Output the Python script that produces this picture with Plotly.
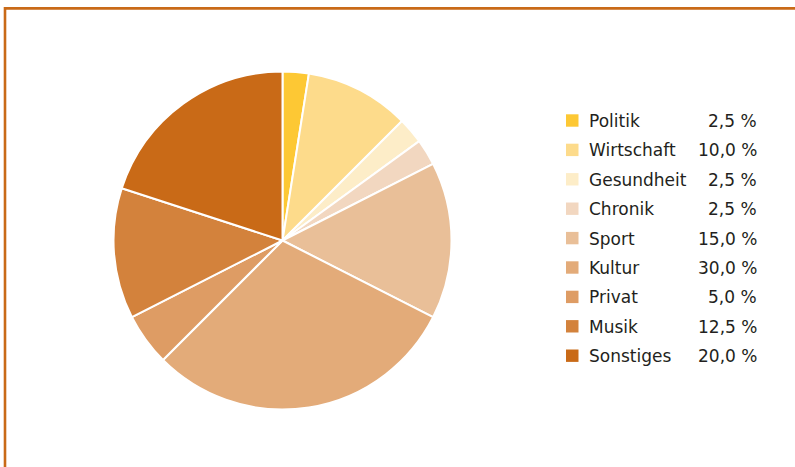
import plotly.graph_objects as go

# Data
categories = ["Politik", "Wirtschaft", "Gesundheit", "Chronik", "Sport",
              "Kultur", "Privat", "Musik", "Sonstiges"]
shares = [2.5, 10.0, 2.5, 2.5, 15.0, 30.0, 5.0, 12.5, 20.0]
colors = ["#FDC834", "#FDDB8B", "#FDEDC8", "#F2D7C0", "#E9BF98",
          "#E3AB79", "#DE9C64", "#D3823C", "#C96A17"]

W, H = 795, 467
FONT = "DejaVu Sans"
TEXT_COLOR = "#231f20"
FRAME_COLOR = "#C96A17"

# Pie geometry in pixels
cx, cy, r = 282.5, 240.5, 169

def px(x):
    return x / W

def py(y):
    return 1 - y / H

fig = go.Figure()
fig.add_trace(go.Pie(
    labels=categories,
    values=shares,
    marker=dict(colors=colors, line=dict(color="white", width=2)),
    sort=False,
    direction="clockwise",
    rotation=0,
    textinfo="none",
    hoverinfo="label+percent",
    showlegend=False,
    domain=dict(x=[px(cx - r), px(cx + r)], y=[py(cy + r), py(cy - r)]),
))

# Custom legend: colour square, label, right-aligned value
shapes = []
annotations = []
row0, step = 120.5, 29.4
for i, (name, val, col) in enumerate(zip(categories, shares, colors)):
    y = row0 + i * step
    shapes.append(dict(type="rect", xref="paper", yref="paper",
                       x0=px(566), x1=px(578.5), y0=py(y + 6.2), y1=py(y - 6.2),
                       fillcolor=col, line=dict(width=0)))
    annotations.append(dict(xref="paper", yref="paper", x=px(587), y=py(y + 0.5),
                            text=name, showarrow=False, xanchor="left", yanchor="middle",
                            font=dict(family=FONT, size=17, color=TEXT_COLOR)))
    label = f"{val:.1f}".replace(".", ",") + " %"
    annotations.append(dict(xref="paper", yref="paper", x=px(759), y=py(y + 0.5),
                            text=label, showarrow=False, xanchor="right", yanchor="middle",
                            font=dict(family=FONT, size=17, color=TEXT_COLOR)))

# Frame: top and left rules
shapes.append(dict(type="path", xref="paper", yref="paper",
                   path=f"M {px(5)},{py(470)} L {px(5)},{py(8.4)} L {px(800)},{py(8.4)}",
                   line=dict(color=FRAME_COLOR, width=2.6)))

fig.update_layout(
    width=W, height=H,
    margin=dict(l=0, r=0, t=0, b=0),
    paper_bgcolor="white",
    plot_bgcolor="white",
    shapes=shapes,
    annotations=annotations,
)

fig.write_html("out.html")
